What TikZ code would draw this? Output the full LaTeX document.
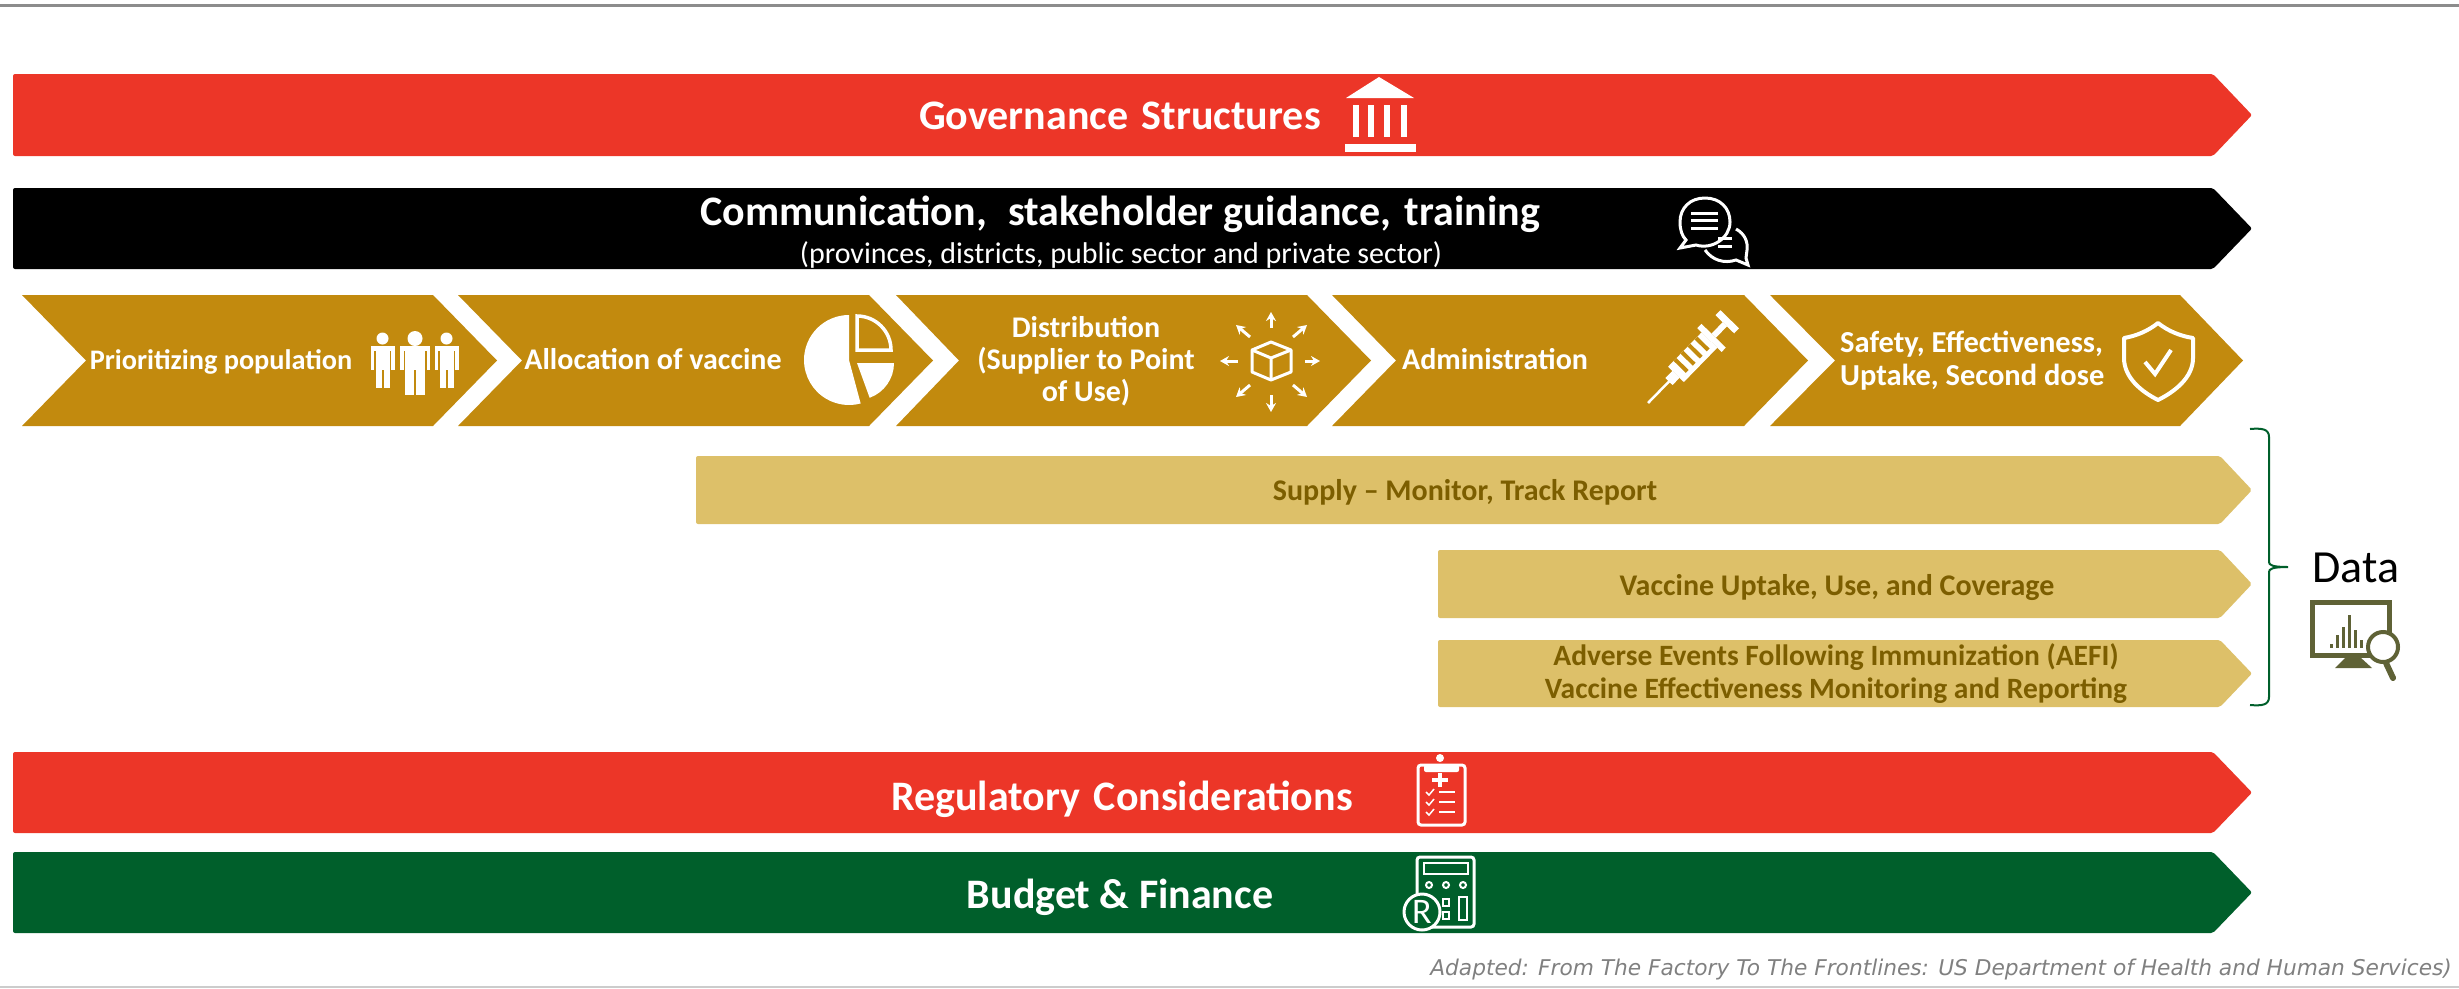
\documentclass[tikz,border=0pt]{standalone}
\usepackage{fontspec}
\setmainfont{Carlito}
\newfontfamily\notefont{DejaVu Sans}
\usetikzlibrary{arrows.meta}

\definecolor{barred}{HTML}{EC3628}
\definecolor{bargreen}{HTML}{005F2B}
\definecolor{stepgold}{HTML}{C28A0E}
\definecolor{datagold}{HTML}{DDC069}
\definecolor{datatext}{HTML}{7C5E00}
\definecolor{iconolive}{HTML}{5F6236}

\tikzset{
	bartext/.style={white, font=\fontsize{42}{46}\bfseries\selectfont, anchor=base, inner sep=0pt},
	steptext/.style={white, font=\fontsize{30}{32}\bfseries\selectfont, anchor=base, inner sep=0pt, align=center},
	datalabel/.style={datatext, font=\fontsize{30}{33}\bfseries\selectfont, anchor=base, inner sep=0pt, align=center},
	iconline/.style={white, line width=3pt},
	moveicon/.style={white, line width=3pt, -{Stealth[length=9pt,width=10pt]}},
	olive/.style={iconolive, line width=5pt}
}

\begin{document}
\begin{tikzpicture}[x=1pt, y=-1pt]
	\useasboundingbox (0, 0) rectangle (2459, 988);

	\draw[gray!90, line width=3pt] (0, 5) -- (2459, 5);
	\draw[gray!40, line width=1.5pt] (0, 987) -- (2459, 987);

	\fill[barred, rounded corners=2pt] (13, 74) -- (2213, 74) -- (2252, 115) -- (2213, 156) -- (13, 156) -- cycle;
	\fill[black, rounded corners=2pt] (13, 188) -- (2213, 188) -- (2252, 228.5) -- (2213, 269) -- (13, 269) -- cycle;
	\fill[barred, rounded corners=2pt] (13, 752) -- (2213, 752) -- (2252, 792.5) -- (2213, 833) -- (13, 833) -- cycle;
	\fill[bargreen, rounded corners=2pt] (13, 852) -- (2213, 852) -- (2252, 892.5) -- (2213, 933) -- (13, 933) -- cycle;

	\foreach \a/\b/\c/\d in {22/86/433/497, 458/522/869/933, 896/959/1307/1371, 1332/1396/1744/1808, 1770/1835/2180/2243}
		\fill[stepgold] (\a, 295) -- (\c, 295) -- (\d, 360.5) -- (\c, 426) -- (\a, 426) -- (\b, 360.5) -- cycle;

	\fill[datagold, rounded corners=2pt] (696, 456) -- (2220, 456) -- (2252, 490) -- (2220, 524) -- (696, 524) -- cycle;
	\fill[datagold, rounded corners=2pt] (1438, 550) -- (2220, 550) -- (2252, 584) -- (2220, 618) -- (1438, 618) -- cycle;
	\fill[datagold, rounded corners=2pt] (1438, 640) -- (2220, 640) -- (2252, 673.5) -- (2220, 707) -- (1438, 707) -- cycle;

	\node[bartext] (governance) at (1120, 129) {Governance\hspace{4pt} Structures};
	\node[bartext] (communication) at (1120, 225) {Communication,\hspace{12pt} stakeholder guidance,\hspace{4pt} training};
	\node[white, font=\fontsize{30}{34}\selectfont, anchor=base, inner sep=0pt] (levels) at (1121, 263) {(provinces, districts, public sector and private sector)};
	\node[bartext] (regulatory) at (1122, 810) {Regulatory\hspace{4pt} Considerations};
	\node[bartext] (budget) at (1120, 908) {Budget \& Finance};

	\node[steptext, font=\fontsize{28.3}{31}\bfseries\selectfont] (prioritizing) at (221, 369) {Prioritizing population};
	\node[steptext] (allocation) at (653, 369) {Allocation of vaccine};
	\node[steptext, anchor=north] (distribution) at (1086, 316) {Distribution\\(Supplier to Point\\of Use)};
	\node[steptext] (administration) at (1495, 369) {Administration};
	\node[steptext, anchor=north west, align=left, font=\fontsize{30.5}{33}\bfseries\selectfont] (safety) at (1840, 331) {Safety, Effectiveness,\\Uptake, Second dose};

	\node[datalabel] (supply) at (1465, 500) {Supply -- Monitor, Track Report};
	\node[datalabel] (uptake) at (1837, 595) {Vaccine Uptake, Use, and Coverage};
	\node[datalabel, anchor=north, font=\fontsize{29.5}{33}\bfseries\selectfont] (aefi) at (1836, 643) {Adverse Events Following Immunization (AEFI)\\Vaccine Effectiveness Monitoring and Reporting};

	\draw[bargreen, line width=2pt] (2250, 429) .. controls (2262, 428) and (2269, 429) .. (2269, 437) -- (2269, 562) .. controls (2269, 565) and (2272, 567) .. (2288, 567) .. controls (2272, 567) and (2269, 569) .. (2269, 572) -- (2269, 697) .. controls (2269, 705) and (2262, 706) .. (2250, 705);
	\node[black, font=\fontsize{46}{50}\selectfont, anchor=base, inner sep=0pt] (data) at (2356, 582) {Data};

	\node[gray, font=\fontsize{21.7}{25}\notefont\itshape\selectfont, anchor=base east, inner sep=0pt] (source) at (2452, 975) {Adapted: From The Factory To The Frontlines: US Department of Health and Human Services)};

	\fill[white] (1379, 77) -- (1414, 98) -- (1346, 98) -- cycle;
	\foreach \x in {1355.5, 1371, 1387, 1404}
		\fill[white] (\x-3, 105) rectangle (\x+3, 137);
	\fill[white] (1344.5, 144) rectangle (1416, 152);

	\draw[iconline] (1705, 198) .. controls (1690, 198) and (1680, 208) .. (1680, 222) .. controls (1680, 230) and (1682, 236) .. (1686, 240) -- (1680, 248) -- (1696, 245) .. controls (1712, 250) and (1730, 238) .. (1730, 222) .. controls (1730, 208) and (1720, 198) .. (1705, 198);
	\draw[iconline] (1736, 229) .. controls (1745, 234) and (1748, 242) .. (1747, 250) -- (1746, 258) -- (1748, 265) -- (1736, 260) .. controls (1724, 264) and (1712, 260) .. (1705, 250);
	\foreach \y in {213, 220, 228}
		\draw[iconline] (1691, \y) -- (1718, \y);
	\foreach \y in {238, 246}
		\draw[iconline] (1718, \y) -- (1732, \y);

	\foreach \x/\t/\b/\w/\r in {382.5/346/388/12/6, 446.5/346/388/12/6, 415/346/395/15/7.5} {
		\fill[white] (\x, \t-7.5) circle[radius=\r pt];
		\fill[white] (\x-\w, \t) rectangle (\x+\w, \t+5);
		\fill[white] (\x-\w, \t) rectangle (\x-\w+3.5, \t+24);
		\fill[white] (\x+\w-3.5, \t) rectangle (\x+\w, \t+24);
		\fill[white] (\x-\w+5, \t) rectangle (\x+\w-5, \t+24);
		\fill[white] (\x-\w+5, \t+24) rectangle (\x-1, \b);
		\fill[white] (\x+1, \t+24) rectangle (\x+\w-5, \b);
	}

	\fill[white] (849, 360) -- ++(90:45pt) arc[start angle=90, end angle=285, radius=45pt] -- cycle;
	\fill[white] (857, 363) -- ++(0:37pt) arc[start angle=0, end angle=-70, radius=37pt] -- cycle;
	\draw[white, line width=3.5pt] (857, 350) -- ++(90:34pt) arc[start angle=90, end angle=0, radius=34pt] -- cycle;

	\draw[iconline, line join=round] (1271, 342) -- (1291, 350) -- (1291, 372) -- (1271, 380) -- (1252, 372) -- (1252, 350) -- cycle;
	\draw[iconline, line join=round] (1252, 350) -- (1271, 358) -- (1291, 350) (1271, 358) -- (1271, 380);
	\foreach \a/\b/\c/\d in {1271/328/1271/312, 1271/395/1271/412, 1305/361/1320/361, 1238/361/1220/361, 1293/337/1307/325, 1293/385/1307/397, 1250/337/1236/325, 1250/385/1236/397}
		\draw[moveicon] (\a, \b) -- (\c, \d);

	\begin{scope}[shift={(1648, 403)}, x=1pt, y=1pt, rotate=45.7]
		\draw[white, line width=2.5pt] (0, 0) -- (32, 0);
		\fill[white] (30, -5) rectangle (40, 5);
		\fill[white] (40, -11) rectangle (88, 11);
		\foreach \s in {48, 58, 68, 78}
			\fill[stepgold] (\s, -6) rectangle (\s+4, 11);
		\fill[white] (88, -17) rectangle (94, 17);
		\fill[white] (94, -3) rectangle (110, 3);
		\fill[white] (110, -13) rectangle (117, 13);
	\end{scope}

	\draw[white, line width=4pt, line join=round] (2158, 323) .. controls (2148, 331) and (2136, 336) .. (2124, 338) -- (2124, 358) .. controls (2124, 378) and (2142, 392) .. (2158, 400) .. controls (2174, 392) and (2193, 378) .. (2193, 358) -- (2193, 338) .. controls (2180, 336) and (2168, 331) .. (2158, 323) -- cycle;
	\draw[white, line width=4pt] (2145, 362) -- (2155, 374) -- (2171, 350);

	\draw[iconline, rounded corners=3pt] (1418, 765) rectangle (1465, 825);
	\fill[white, rounded corners=2pt] (1424, 765) rectangle (1459, 772);
	\fill[white] (1440, 758) circle[radius=4pt];
	\draw[white, line width=4pt] (1432, 780) -- (1448, 780) (1440, 773) -- (1440, 787);
	\foreach \y in {792, 802, 812} {
		\draw[white, line width=1.5pt] (1426, \y) -- (1429, \y+3) -- (1434, \y-3);
		\draw[white, line width=2.5pt] (1439, \y) -- (1455, \y);
	}

	\draw[iconline, rounded corners=3pt] (1417, 857) rectangle (1474, 927);
	\draw[white, line width=2pt] (1424, 863) rectangle (1468, 874);
	\foreach \x in {1429, 1446, 1463}
		\draw[white, line width=2pt] (\x, 885) circle[radius=3pt];
	\draw[white, line width=2pt] (1443, 899) rectangle (1449, 906);
	\draw[white, line width=2pt] (1443, 912) rectangle (1449, 919);
	\draw[white, line width=2pt] (1459, 897) rectangle (1467, 920);
	\node[circle, draw=white, fill=bargreen, line width=3pt, text=white, minimum size=36pt, inner sep=0pt, font=\fontsize{36}{36}\selectfont] (finance) at (1422, 912) {R};

	\draw[olive] (2312, 602) rectangle (2389, 655);
	\fill[iconolive] (2346, 657) -- (2360, 657) -- (2372, 668) -- (2335, 668) -- cycle;
	\foreach \x/\y in {2331/644, 2337/635, 2343/627, 2349/615, 2355/630, 2361/640}
		\fill[iconolive] (\x-1.5, 648) rectangle (\x+1.5, \y);
	\draw[iconolive, fill=white, line width=4pt] (2383, 647) circle[radius=15pt];
	\draw[iconolive, line width=6pt, line cap=round] (2386, 663) -- (2393, 678);
\end{tikzpicture}
\end{document}
